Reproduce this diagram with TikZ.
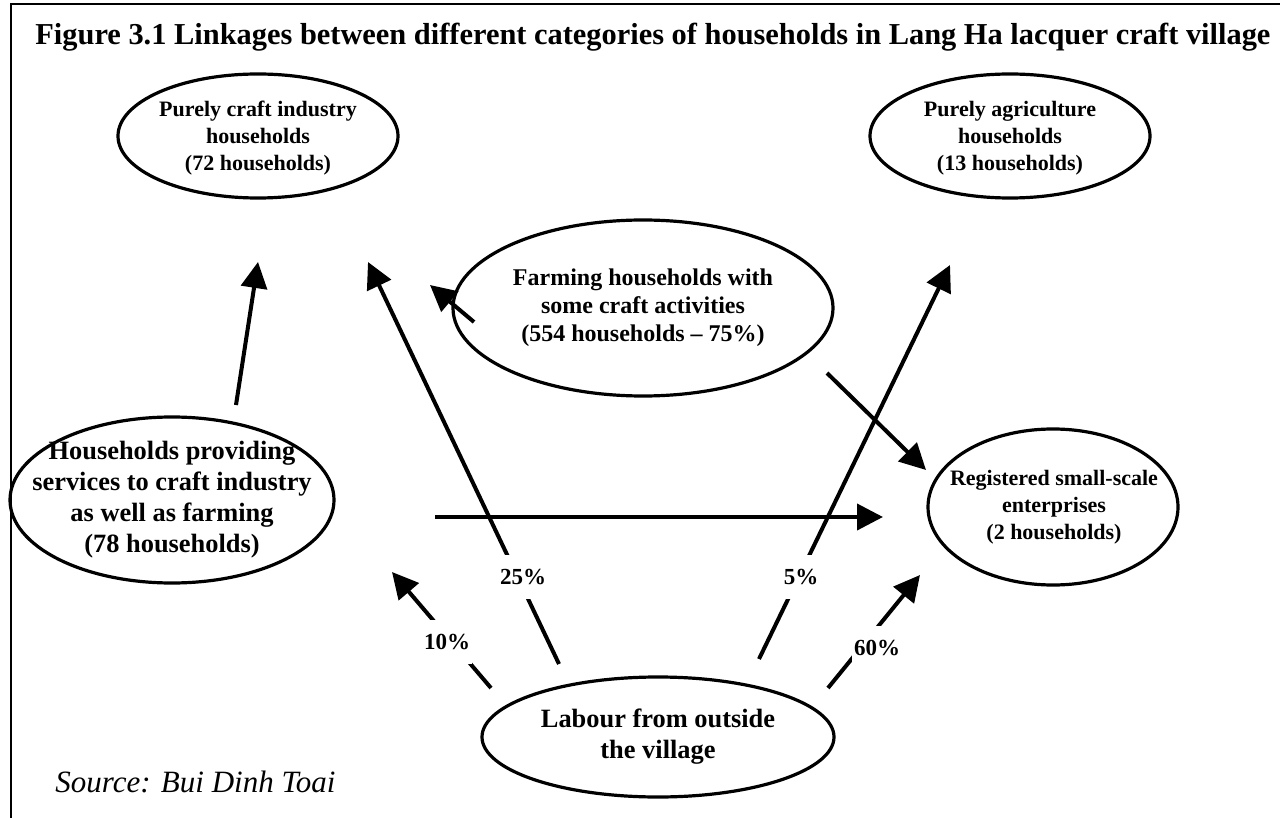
\documentclass[tikz,border=0pt]{standalone}
\usepackage{fontspec}
\setmainfont{Liberation Serif}
\usetikzlibrary{shapes.geometric,arrows.meta}
\begin{document}
\begin{tikzpicture}[x=0.5pt,y=-0.5pt,
  ell/.style={ellipse,draw,line width=1.6pt,inner sep=0pt},
  txt/.style={align=center,inner sep=0pt,font=\bfseries\fontsize{13.2}{15.5}\selectfont},
  txts/.style={align=center,inner sep=0pt,font=\bfseries\fontsize{11}{13.5}\selectfont},
  txtm/.style={align=center,inner sep=0pt,font=\bfseries\fontsize{12}{14}\selectfont},
  arr/.style={line width=2pt,-{Triangle[length=13pt,width=13pt]}},
  pct/.style={fill=white,inner xsep=1pt,inner ysep=7pt,font=\bfseries\fontsize{11.5}{13}\selectfont}]
\useasboundingbox (0,0) rectangle (1280,818);
\draw[line width=0.75pt] (11,818) -- (11,4) -- (1280,4);
\node[anchor=base west,inner sep=0pt,font=\bfseries\fontsize{15.2}{17}\selectfont] (title) at (35,45)
  {Figure 3.1 Linkages between different categories of households in Lang Ha lacquer craft village};
\node[anchor=base west,inner sep=0pt,font=\itshape\fontsize{15.5}{18}\selectfont] (src) at (55,792)
  {Source: Bui Dinh Toai};

% ellipses
\node[ell,minimum width=140pt,minimum height=62pt] (craft) at (258,136) {};
\node[ell,minimum width=140pt,minimum height=62pt] (agri) at (1010,136) {};
\node[ell,minimum width=190pt,minimum height=88pt] (farm) at (643,308) {};
\node[ell,minimum width=162pt,minimum height=83pt] (serv) at (172,500) {};
\node[ell,minimum width=125pt,minimum height=78pt] (reg) at (1053,507) {};
\node[ell,minimum width=176pt,minimum height=60pt] (lab) at (658,737) {};

\node[txts] (craftt) at (258,138) {Purely craft industry\\households\\(72 households)};
\node[txts] (agrit) at (1010,138) {Purely agriculture\\households\\(13 households)};
\node[txtm] (farmt) at (farm) {Farming households with\\some craft activities\\(554 households – 75\%)};
\node[txt] (servt) at (serv) {Households providing\\services to craft industry\\as well as farming\\(78 households)};
\node[txts] (regt) at (1054,507) {Registered small-scale\\enterprises\\(2 households)};
\node[txt] (labt) at (lab) {Labour from outside\\the village};

% arrow end points
\coordinate (a1s) at (236,405); \coordinate (a1e) at (258,262);
\coordinate (a2s) at (474,322); \coordinate (a2e) at (430,285);
\coordinate (a3s) at (559,664); \coordinate (a3e) at (368,262);
\coordinate (a4s) at (759,659); \coordinate (a4e) at (950,265);
\coordinate (a5s) at (827,373); \coordinate (a5e) at (926,470);
\coordinate (a6s) at (435,517); \coordinate (a6e) at (883,517);
\coordinate (a7s) at (491,688); \coordinate (a7e) at (392,572);
\coordinate (a8s) at (828,688); \coordinate (a8e) at (920,575);

\draw[arr] (a1s) -- (a1e);
\draw[arr] (a2s) -- (a2e);
\draw[arr] (a3s) -- (a3e);
\draw[arr] (a4s) -- (a4e);
\draw[arr] (a5s) -- (a5e);
\draw[arr] (a6s) -- (a6e);
\draw[arr] (a7s) -- (a7e);
\draw[arr] (a8s) -- (a8e);

\node[pct] (p25) at (523,577) {25\%};
\node[pct] (p5) at (801,577) {5\%};
\node[pct] (p10) at (447,642) {10\%};
\node[pct] (p60) at (877,648) {60\%};
\end{tikzpicture}
\end{document}
